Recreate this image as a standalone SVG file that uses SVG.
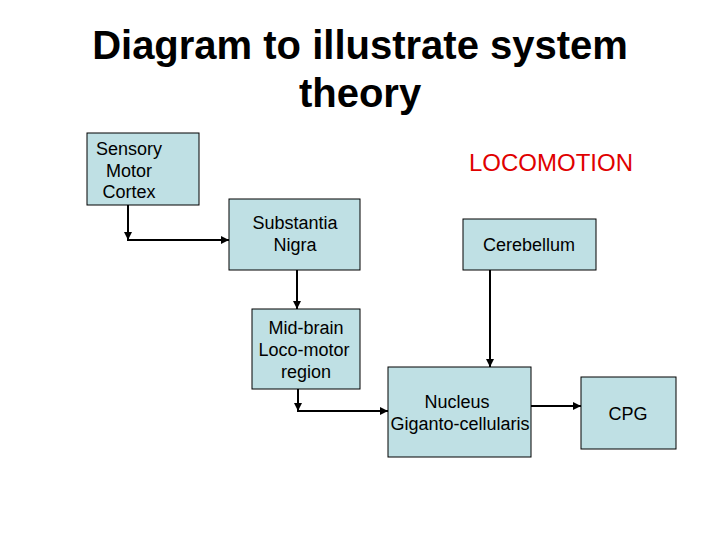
<svg xmlns="http://www.w3.org/2000/svg" width="720" height="540" viewBox="0 0 720 540">
<style>
.box{fill:#bfe0e4;stroke:#000;stroke-width:1}
.t{font-family:"Liberation Sans",Arial,sans-serif;font-size:18px;fill:#000;text-anchor:middle}
.title{font-family:"Liberation Sans",Arial,sans-serif;font-size:40px;font-weight:bold;fill:#000;text-anchor:middle}
.c{fill:none;stroke:#000;stroke-width:2}
</style>
<defs>
<marker id="ah" viewBox="0 0 10 10" refX="10" refY="5" markerWidth="4" markerHeight="4" orient="auto" markerUnits="strokeWidth">
<path d="M0,0 L10,5 L0,10 z" fill="#000"/>
</marker>
</defs>
<rect width="720" height="540" fill="#fff"/>
<text class="title" x="360" y="59">Diagram to illustrate system</text>
<text class="title" x="360" y="107">theory</text>
<text x="551" y="171" font-family="'Liberation Sans',Arial,sans-serif" font-size="24" fill="#e00000" text-anchor="middle">LOCOMOTION</text>
<g id="connectors">
<path class="c" d="M128,205 V240 H229" marker-end="url(#ah)"/>
<path class="c" d="M128,205 V240" marker-end="url(#ah)"/>
<path class="c" d="M297,270 V309" marker-end="url(#ah)"/>
<path class="c" d="M298,389 V411 H388" marker-end="url(#ah)"/>
<path class="c" d="M298,389 V411" marker-end="url(#ah)"/>
<path class="c" d="M490,270 V367" marker-end="url(#ah)"/>
<path class="c" d="M531,406 H581" marker-end="url(#ah)"/>
</g>
<g id="sensory">
<rect class="box" x="87" y="133" width="112" height="72"/>
<text class="t" x="129" y="155">Sensory</text>
<text class="t" x="129" y="177">Motor</text>
<text class="t" x="129" y="198">Cortex</text>
</g>
<g id="substantia">
<rect class="box" x="229" y="199" width="131" height="71"/>
<text class="t" x="295" y="229">Substantia</text>
<text class="t" x="295" y="251">Nigra</text>
</g>
<g id="cerebellum">
<rect class="box" x="463" y="219" width="133" height="51"/>
<text class="t" x="529" y="251">Cerebellum</text>
</g>
<g id="midbrain">
<rect class="box" x="252" y="309" width="108" height="80"/>
<text class="t" x="306" y="334">Mid-brain</text>
<text class="t" x="304" y="356">Loco-motor</text>
<text class="t" x="306" y="378">region</text>
</g>
<g id="nucleus">
<rect class="box" x="388" y="367" width="143" height="90"/>
<text class="t" x="457" y="408">Nucleus</text>
<text class="t" x="460" y="430">Giganto-cellularis</text>
</g>
<g id="cpg">
<rect class="box" x="581" y="377" width="95" height="72"/>
<text class="t" x="628" y="420">CPG</text>
</g>
</svg>
